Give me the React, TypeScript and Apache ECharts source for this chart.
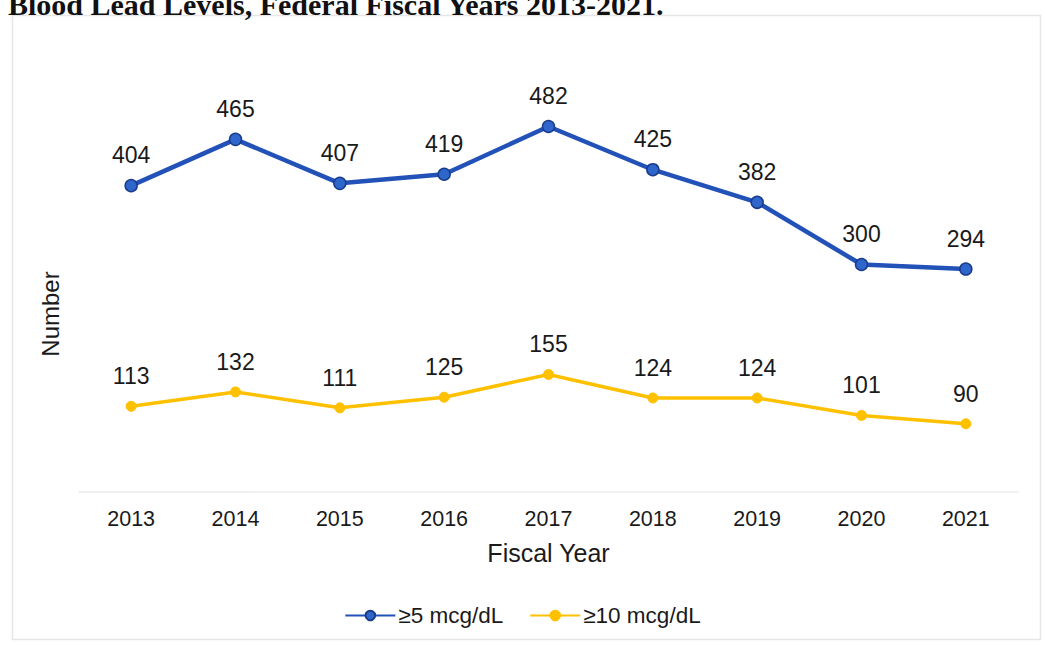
import React, { useEffect, useRef } from "react";
import * as echarts from "echarts";

const years = ["2013", "2014", "2015", "2016", "2017", "2018", "2019", "2020", "2021"];
const ge5 = [404, 465, 407, 419, 482, 425, 382, 300, 294];
const ge10 = [113, 132, 111, 125, 155, 124, 124, 101, 90];
const titleText = "Blood Lead Levels, Federal Fiscal Years 2013-2021.";
const yTitle = "Number";
const xTitle = "Fiscal Year";

export default function App() {
  const ref = useRef<HTMLDivElement>(null);
  useEffect(() => {
    if (!ref.current) return;
    const chart = echarts.init(ref.current, null, { renderer: "svg" });
    const font = "Liberation Sans, Arial, sans-serif";
    chart.setOption({
      animation: false,
      backgroundColor: "#ffffff",
      graphic: [
        {
          type: "rect",
          shape: { x: 12.5, y: 15.5, width: 1028, height: 624 },
          style: { fill: "none", stroke: "#e6e6e6", lineWidth: 1.5 },
          silent: true,
        },
        {
          type: "text",
          x: 8,
          y: 19,
          style: {
            text: titleText,
            font: "bold 30px 'Liberation Serif', 'Times New Roman', serif",
            fill: "#111",
            verticalAlign: "bottom",
          },
        },
        {
          type: "text",
          x: 50,
          y: 314,
          rotation: Math.PI / 2,
          style: {
            text: yTitle,
            font: "24px 'Liberation Sans', Arial, sans-serif",
            fill: "#1a1a1a",
            align: "center",
            verticalAlign: "middle",
          },
        },
      ],
      grid: { left: 79, right: 27, top: 37, bottom: 157 },
      xAxis: {
        type: "category",
        data: years,
        boundaryGap: true,
        name: xTitle,
        nameLocation: "middle",
        nameGap: 48,
        nameTextStyle: { fontSize: 25, color: "#1a1a1a", fontFamily: font },
        axisLine: { show: true, lineStyle: { color: "#ececec", width: 1.5 } },
        axisTick: { show: false },
        axisLabel: { fontSize: 21.5, color: "#1a1a1a", fontFamily: font, margin: 16 },
      },
      yAxis: {
        type: "value",
        min: 0,
        max: 600,
        interval: 100,
        axisLine: { show: false },
        axisTick: { show: false },
        axisLabel: { show: false },
        splitLine: { show: false },
      },
      legend: {
        bottom: 17,
        left: "center",
        itemWidth: 50,
        itemHeight: 12,
        itemGap: 26,
        textStyle: { fontSize: 22.5, color: "#1a1a1a", fontFamily: font, padding: [0, 0, 0, -2] },
        data: ["≥5 mcg/dL", "≥10 mcg/dL"],
      },
      series: [
        {
          name: "≥5 mcg/dL",
          type: "line",
          data: ge5,
          symbol: "circle",
          symbolSize: 12,
          lineStyle: { color: "#2252b8", width: 4.5 },
          itemStyle: { color: "#2e66cc", borderColor: "#1a3c8c", borderWidth: 1.5 },
          label: {
            show: true,
            position: "top",
            distance: 12,
            fontSize: 23,
            color: "#1a1a1a",
            fontFamily: font,
          },
        },
        {
          name: "≥10 mcg/dL",
          type: "line",
          data: ge10,
          symbol: "circle",
          symbolSize: 10,
          lineStyle: { color: "#ffc000", width: 3.5 },
          itemStyle: { color: "#ffc000", borderColor: "#ffc000", borderWidth: 1 },
          label: {
            show: true,
            position: "top",
            distance: 13,
            fontSize: 23,
            color: "#1a1a1a",
            fontFamily: font,
          },
        },
      ],
    });
    return () => chart.dispose();
  }, []);
  return (
    <div
      ref={ref}
      style={{ position: "fixed", left: 0, top: 0, width: 1045, height: 649 }}
    />
  );
}
